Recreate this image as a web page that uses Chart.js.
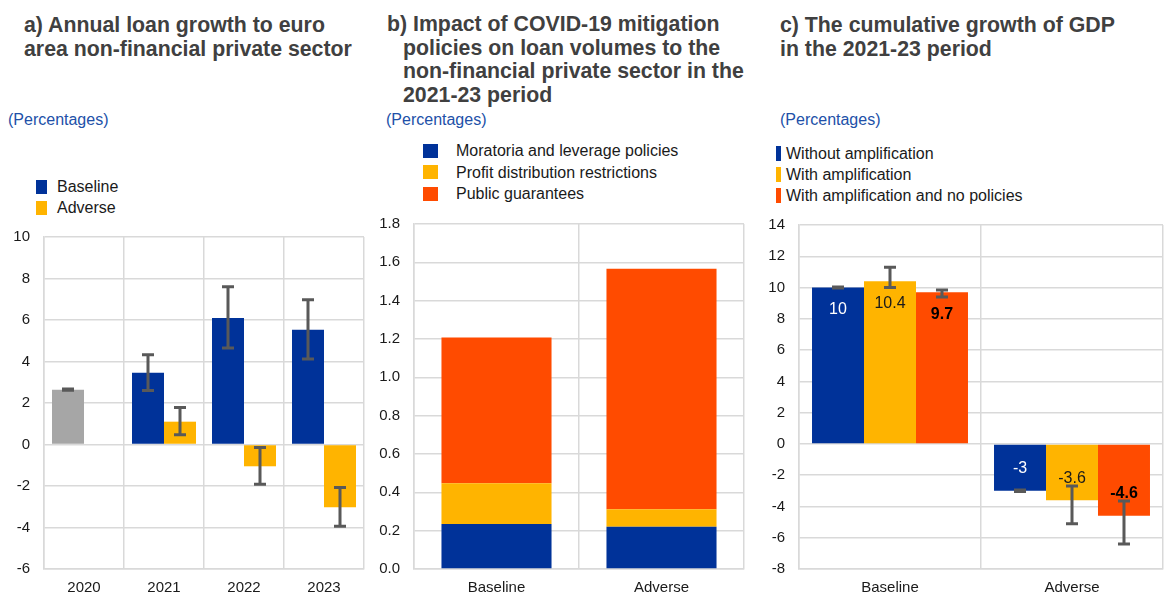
<!DOCTYPE html>
<html>
<head>
<meta charset="utf-8">
<script src="https://cdn.jsdelivr.net/npm/chart.js@4/dist/chart.umd.min.js"></script>
<style>
  body { margin: 0; background: #fff; font-family: "Liberation Sans", Arial, sans-serif; }
  #page { position: relative; width: 1173px; height: 597px; overflow: hidden; }
  .title { position: absolute; font-weight: bold; font-size: 21.3px; line-height: 23.5px; color: #404040; white-space: nowrap; }
  .title.hang { padding-left: 16px; text-indent: -16px; }
  .unit { position: absolute; font-size: 16px; line-height: 18px; color: #2150a8; top: 111px; }
  .legend { position: absolute; font-size: 16px; color: #1a1a1a; }
  .legend .row { position: relative; white-space: nowrap; }
  .legend .mark { position: absolute; }
  .box { position: absolute; }
</style>
</head>
<body>
<div id="page">
  <div class="title" style="left:24px; top:14px;">a) Annual loan growth to euro<br>area non-financial private sector</div>
  <div class="title" style="left:387px; top:13px;">b) Impact of COVID-19 mitigation<br><span style="padding-left:16px">policies on loan volumes to the</span><br><span style="padding-left:16px">non-financial private sector in the</span><br><span style="padding-left:16px">2021-23 period</span></div>
  <div class="title" style="left:780px; top:14px;">c) The cumulative growth of GDP<br>in the 2021-23 period</div>

  <div class="unit" style="left:8px;">(Percentages)</div>
  <div class="unit" style="left:386px;">(Percentages)</div>
  <div class="unit" style="left:780px;">(Percentages)</div>

  <div class="legend" id="legendA" style="left:36px; top:176px;"></div>
  <div class="legend" id="legendB" style="left:423px; top:140px;"></div>
  <div class="legend" id="legendC" style="left:776px; top:143px;"></div>

  <div class="box" style="left:0px; top:214px; width:372px; height:383px;"><canvas id="chartA"></canvas></div>
  <div class="box" style="left:372px; top:201px; width:386px; height:396px;"><canvas id="chartB"></canvas></div>
  <div class="box" style="left:758px; top:202px; width:415px; height:395px;"><canvas id="chartC"></canvas></div>
</div>

<script>
// ---- panel a: annual loan growth ----
const yearsA = ["2020", "2021", "2022", "2023"];
const baselineA = [2.64, 3.46, 6.1, 5.53];
const adverseA = [null, 1.1, -1.05, -3.03];
const baselineLowA = [2.61, 2.6, 4.65, 4.12];
const baselineHighA = [2.68, 4.33, 7.6, 6.97];
const adverseLowA = [null, 0.47, -1.92, -3.94];
const adverseHighA = [null, 1.78, -0.14, -2.07];
const legendA = ["Baseline", "Adverse"];

// ---- panel b: impact of mitigation policies ----
const scenariosB = ["Baseline", "Adverse"];
const moratoriaB = [0.235, 0.22];
const profitB = [0.213, 0.092];
const guaranteesB = [0.76, 1.255];
const legendB = ["Moratoria and leverage policies", "Profit distribution restrictions", "Public guarantees"];

// ---- panel c: cumulative GDP growth ----
const scenariosC = ["Baseline", "Adverse"];
const withoutAmpC = [10, -3];
const withAmpC = [10.4, -3.6];
const noPoliciesC = [9.7, -4.6];
const withoutAmpLowC = [9.97, -3.05];
const withoutAmpHighC = [10.03, -2.95];
const withAmpLowC = [10.0, -5.1];
const withAmpHighC = [11.3, -2.69];
const noPoliciesLowC = [9.4, -6.4];
const noPoliciesHighC = [9.85, -3.65];
const legendC = ["Without amplification", "With amplification", "With amplification and no policies"];

const BLUE = "#003299", YELLOW = "#ffb400", ORANGE = "#ff4b00", GREY = "#a6a6a6";
const GRID = "#d9d9d9";

Chart.defaults.font.family = "'Liberation Sans', Arial, sans-serif";
Chart.defaults.font.size = 15;
Chart.defaults.color = "#1a1a1a";

function makeLegend(id, labels, colors, w, h, textLeft, rowH) {
  const el = document.getElementById(id);
  labels.forEach((lab, i) => {
    const row = document.createElement("div");
    row.className = "row";
    row.style.height = rowH + "px";
    row.style.lineHeight = rowH + "px";
    row.style.paddingLeft = textLeft + "px";
    const m = document.createElement("span");
    m.className = "mark";
    m.style.left = "0px";
    m.style.top = ((rowH - h) / 2) + "px";
    m.style.width = w + "px";
    m.style.height = h + "px";
    m.style.background = colors[i];
    row.appendChild(m);
    row.appendChild(document.createTextNode(lab));
    el.appendChild(row);
  });
}
makeLegend("legendA", legendA, [BLUE, YELLOW], 11, 14, 21, 21);
makeLegend("legendB", legendB, [BLUE, YELLOW, ORANGE], 15, 14, 33, 21.5);
makeLegend("legendC", legendC, [BLUE, YELLOW, ORANGE], 5, 15, 10, 21);

// error bars: dataset.errLow / dataset.errHigh, drawn on the y scale
const errorBars = {
  id: "errorBars",
  afterDatasetsDraw(chart) {
    const ctx = chart.ctx;
    const y = chart.scales.y;
    ctx.save();
    ctx.strokeStyle = "#595959";
    ctx.lineWidth = 3;
    chart.data.datasets.forEach((ds, i) => {
      if (!ds.errLow) return;
      const meta = chart.getDatasetMeta(i);
      meta.data.forEach((bar, j) => {
        const lo = ds.errLow[j], hi = ds.errHigh[j];
        if (lo == null || hi == null) return;
        const x = bar.x, y1 = y.getPixelForValue(lo), y2 = y.getPixelForValue(hi);
        ctx.beginPath();
        ctx.moveTo(x, y1); ctx.lineTo(x, y2);
        ctx.moveTo(x - 6, y1); ctx.lineTo(x + 6, y1);
        ctx.moveTo(x - 6, y2); ctx.lineTo(x + 6, y2);
        ctx.stroke();
      });
    });
    ctx.restore();
  }
};

// value labels inside bar ends (panel c)
const barLabels = {
  id: "barLabels",
  afterDatasetsDraw(chart) {
    const ctx = chart.ctx;
    ctx.save();
    ctx.textAlign = "center";
    ctx.textBaseline = "middle";
    chart.data.datasets.forEach((ds, i) => {
      if (!ds.labelColor) return;
      const meta = chart.getDatasetMeta(i);
      ctx.fillStyle = ds.labelColor;
      ctx.font = (ds.labelBold ? "bold " : "") + "16px 'Liberation Sans', Arial";
      meta.data.forEach((bar, j) => {
        const v = ds.data[j];
        const ty = v >= 0 ? bar.y + 22 : bar.y - 22;
        ctx.fillText(String(v), bar.x, ty);
      });
    });
    ctx.restore();
  }
};

function axes(min, max, step, yWidth, xHeight, fmt) {
  return {
    x: {
      grid: { color: GRID, offset: true, drawTicks: false, lineWidth: 1.5 },
      border: { color: GRID, width: 1.5 },
      ticks: { padding: 10, color: "#1a1a1a" },
      afterFit(s) { s.height = xHeight; }
    },
    y: {
      min: min, max: max,
      grid: { color: GRID, drawTicks: false, lineWidth: 1.5 },
      border: { color: GRID, width: 1.5 },
      ticks: { stepSize: step, padding: 14, color: "#1a1a1a", callback: fmt || (v => v) },
      afterFit(s) { s.width = yWidth; }
    }
  };
}

new Chart(document.getElementById("chartA"), {
  type: "bar",
  data: {
    labels: yearsA,
    datasets: [
      { label: legendA[0], data: baselineA, backgroundColor: [GREY, BLUE, BLUE, BLUE],
        errLow: baselineLowA, errHigh: baselineHighA },
      { label: legendA[1], data: adverseA, backgroundColor: YELLOW,
        errLow: adverseLowA, errHigh: adverseHighA }
    ]
  },
  options: {
    responsive: true, maintainAspectRatio: false, animation: false,
    barPercentage: 1.0, categoryPercentage: 0.8,
    layout: { padding: { top: 10, right: 8, left: 0, bottom: 0 } },
    plugins: { legend: { display: false }, tooltip: { enabled: false } },
    scales: axes(-6, 10, 2, 44, 28)
  },
  plugins: [errorBars]
});

new Chart(document.getElementById("chartB"), {
  type: "bar",
  data: {
    labels: scenariosB,
    datasets: [
      { label: legendB[0], data: moratoriaB, backgroundColor: BLUE },
      { label: legendB[1], data: profitB, backgroundColor: YELLOW },
      { label: legendB[2], data: guaranteesB, backgroundColor: ORANGE }
    ]
  },
  options: {
    responsive: true, maintainAspectRatio: false, animation: false,
    barPercentage: 0.667, categoryPercentage: 1.0,
    layout: { padding: { top: 11, right: 14, left: 0, bottom: 0 } },
    plugins: { legend: { display: false }, tooltip: { enabled: false } },
    scales: (() => {
      const s = axes(0, 1.8, 0.2, 42, 28, v => v.toFixed(1));
      s.x.stacked = true; s.y.stacked = true;
      return s;
    })()
  }
});

new Chart(document.getElementById("chartC"), {
  type: "bar",
  data: {
    labels: scenariosC,
    datasets: [
      { label: legendC[0], data: withoutAmpC, backgroundColor: BLUE,
        errLow: withoutAmpLowC, errHigh: withoutAmpHighC, labelColor: "#ffffff" },
      { label: legendC[1], data: withAmpC, backgroundColor: YELLOW,
        errLow: withAmpLowC, errHigh: withAmpHighC, labelColor: "#1a1a1a" },
      { label: legendC[2], data: noPoliciesC, backgroundColor: ORANGE,
        errLow: noPoliciesLowC, errHigh: noPoliciesHighC, labelColor: "#000000", labelBold: true }
    ]
  },
  options: {
    responsive: true, maintainAspectRatio: false, animation: false,
    barPercentage: 1.0, categoryPercentage: 0.857,
    layout: { padding: { top: 13, right: 10, left: 0, bottom: 0 } },
    plugins: { legend: { display: false }, tooltip: { enabled: false } },
    scales: axes(-8, 14, 2, 41, 28)
  },
  plugins: [barLabels, errorBars]
});
</script>
</body>
</html>
